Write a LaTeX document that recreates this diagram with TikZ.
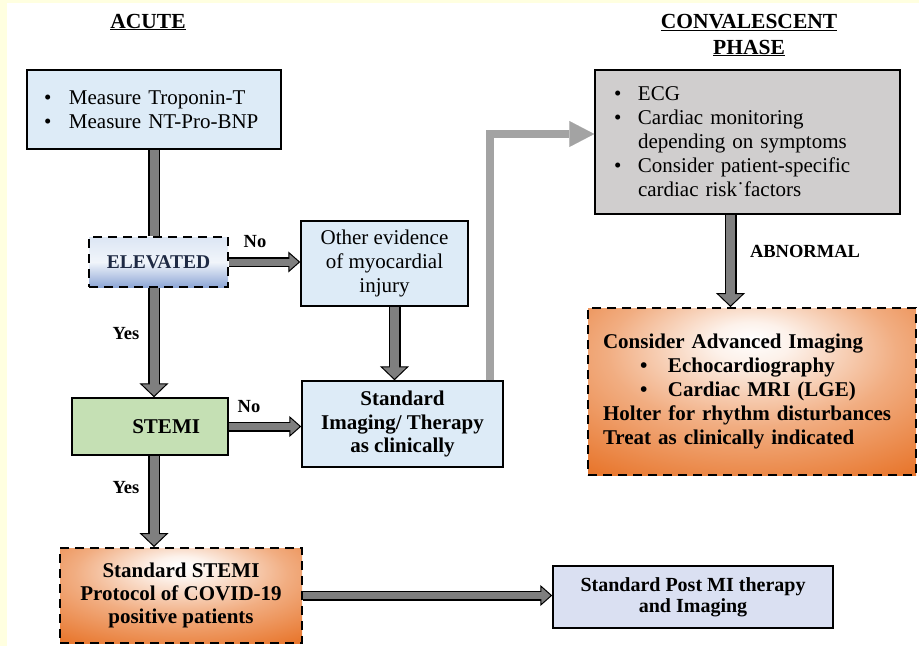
\documentclass[tikz,border=0pt]{standalone}
\usepackage{fontspec}
\setmainfont{Liberation Serif}
\usetikzlibrary{arrows.meta}

\definecolor{bgyellow}{HTML}{FFFFE0}
\definecolor{paleblue}{HTML}{DDEBF7}
\definecolor{postblue}{HTML}{DAE0F2}
\definecolor{boxgray}{HTML}{D0CECE}
\definecolor{stemigreen}{HTML}{C5E0B4}
\definecolor{orangeedge}{HTML}{E8772E}
\definecolor{elevtop}{HTML}{DCE6F4}
\definecolor{elevbot}{HTML}{8EA7D6}
\definecolor{navy}{HTML}{1F2A44}
\definecolor{arrowgray}{HTML}{7F7F7F}
\definecolor{linkgray}{HTML}{A3A3A3}

\pgfdeclareradialshading{glow}{\pgfpoint{0bp}{16bp}}{%
  color(0bp)=(white); color(6bp)=(white!90!orangeedge);
  color(22bp)=(white!40!orangeedge); color(40bp)=(orangeedge);
  color(80bp)=(orangeedge!92!black)}

\newcommand{\itembul}[1][24pt]{\makebox[#1][l]{\textbullet}}

\tikzset{
  box/.style={draw=black, line width=1.5pt, inner sep=0pt, font=\fontsize{21}{24}\selectfont},
  dashbox/.style={box, line width=2pt, dash pattern=on 9pt off 6pt},
  glowbox/.style={dashbox, shading=glow},
  heading/.style={font=\fontsize{21.5}{26}\selectfont\bfseries, align=center},
  lbl/.style={font=\fontsize{18.5}{22}\selectfont\bfseries},
  fatline/.style={draw=black, line width=12pt, postaction={draw=arrowgray, line width=9pt}},
  fatarrow/.style={draw=black, line width=12pt,
    -{Triangle[length=14pt, width=29pt, line width=1pt, fill=arrowgray]},
    postaction={draw=arrowgray, line width=9pt, -, shorten >=12pt}},
  thinarrow/.style={draw=black, line width=10pt,
    -{Triangle[length=12pt, width=21pt, line width=1pt, fill=arrowgray]},
    postaction={draw=arrowgray, line width=7pt, -, shorten >=10pt}},
  linkarrow/.style={draw=linkgray, line width=8pt,
    -{Triangle[length=25pt, width=26pt, line width=0.1pt]}}
}

\begin{document}
\begin{tikzpicture}[x=1pt,y=-1pt]
\fill[bgyellow] (0,0) rectangle (919,646);
\fill[white] (7,3) rectangle (919,646);
\useasboundingbox (0,0) rectangle (919,646);

\node[heading] (acute) at (148,22) {\underline{ACUTE}};
\node[heading] (convtitle) at (749,35) {\underline{CONVALESCENT}\\\underline{PHASE}};

\node[box, fill=paleblue, minimum width=254pt, minimum height=79pt,
  text width=220pt, align=left] (measure) at (154,109.5)
  {\itembul[25pt]Measure Troponin-T\\\itembul[25pt]Measure NT-Pro-BNP};
\node[dashbox, top color=elevtop, bottom color=elevbot, middle color=white!60!elevtop,
  minimum width=139pt, minimum height=50pt, text=navy,
  font=\fontsize{19.5}{22}\selectfont\bfseries] (elevated) at (158.5,262) {ELEVATED};
\node[box, fill=paleblue, minimum width=167pt, minimum height=85pt, align=center]
  (other) at (384.5,263.5) {Other evidence\\of myocardial\\injury};
\node[box, fill=stemigreen, minimum height=57pt, inner xsep=28pt, text width=100pt,
  align=right, font=\fontsize{21}{24}\selectfont\bfseries] (stemi) at (150,426.5) {STEMI};
\node[box, fill=paleblue, minimum width=201pt, minimum height=86pt, align=center,
  font=\fontsize{21}{23.5}\selectfont\bfseries] (imaging) at (402.5,424)
  {Standard\\Imaging/ Therapy\\as clinically};
\node[glowbox, minimum width=242pt, minimum height=95pt, align=center,
  font=\fontsize{21}{23}\selectfont\bfseries] (protocol) at (181,595.5)
  {Standard STEMI\\Protocol of COVID-19\\positive patients};
\node[box, fill=postblue, minimum width=280pt, minimum height=62pt, align=center,
  font=\fontsize{20}{21}\selectfont\bfseries] (postmi) at (693,597)
  {Standard Post MI therapy\\and Imaging};

\node[box, fill=boxgray, minimum width=305pt, minimum height=144pt,
  text width=267pt, align=left] (conval) at (747.5,142)
  {\itembul ECG\\\itembul Cardiac monitoring\\\hspace*{24pt}depending on symptoms\\
   \itembul Consider patient-specific\\\hspace*{24pt}cardiac risk˙factors};
\node[glowbox, minimum width=328pt, minimum height=167pt, text width=298pt,
  align=left, font=\fontsize{21}{24}\selectfont\bfseries] (advanced) at (752,391.5)
  {Consider Advanced Imaging\\
   \hspace*{37pt}\itembul[28pt]Echocardiography\\
   \hspace*{37pt}\itembul[28pt]Cardiac MRI (LGE)\\
   Holter for rhythm disturbances\\
   Treat as clinically indicated};

\draw[fatline] (measure.south) -- (measure.south |- elevated.north);
\draw[fatarrow] (measure.south |- elevated.south) -- (measure.south |- stemi.north);
\draw[fatarrow] (measure.south |- stemi.south) -- (measure.south |- protocol.north);
\draw[thinarrow] (elevated.east) -- (elevated.east -| other.west);
\draw[fatarrow] ([xshift=10pt]other.south) -- ([xshift=10pt]other.south |- imaging.north);
\draw[thinarrow] (stemi.east) -- (stemi.east -| imaging.west);
\draw[thinarrow] (protocol.east) -- (protocol.east -| postmi.west);
\draw[linkarrow] ([xshift=87pt]imaging.north) |- ([yshift=8pt]conval.west);
\draw[fatarrow] ([xshift=-17pt]conval.south) -- ([xshift=-17pt]conval.south |- advanced.north);

\node[lbl] (noone) at (255,242) {No};
\node[lbl] (yesone) at (126,334) {Yes};
\node[lbl] (notwo) at (249,407) {No};
\node[lbl] (yestwo) at (126,488) {Yes};
\node[lbl] (abnormal) at (805,251) {ABNORMAL};
\end{tikzpicture}
\end{document}
